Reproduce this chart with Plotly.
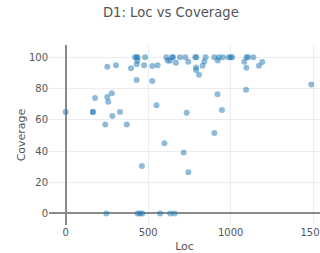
import plotly.graph_objects as go

loc = [0, 165, 165, 178, 240, 252, 252, 258, 279, 283, 305, 329, 370, 396,
       420, 430, 436, 434, 430, 430, 462, 475, 481, 525, 525, 550, 557, 598,
       610, 618, 632, 646, 650, 668, 692, 725, 715, 743, 733, 743, 785, 792,
       790, 790, 808, 830, 840, 848, 901, 921, 929, 953, 901, 920, 947, 988,
       1000, 1008, 1082, 1095, 1105, 1137, 1095, 1171, 1191, 1093, 1488,
       246, 436, 450, 464, 572, 634, 660]
coverage = [65, 65, 65, 74, 57, 94, 74.6, 71.6, 77, 62.4, 95, 65, 57, 93,
            100, 100, 100, 97.8, 95.5, 85.5, 30.4, 95, 100, 94.4, 84.8, 69.3, 95, 45,
            100, 98, 97.8, 100, 100, 96.5, 100, 100, 39, 26.4, 64.5, 97.2, 100, 100,
            93.5, 91.9, 88.9, 94.6, 97.4, 100, 100, 98, 100, 100, 51.5, 76.3, 66.3, 100,
            100, 100, 97.2, 100, 100, 100, 93.3, 94.6, 97, 79.3, 82.6,
            0, 0, 0, 0, 0, 0, 0]

fig = go.Figure(go.Scatter(
    x=loc, y=coverage, mode="markers",
    marker=dict(size=6, color="rgba(31,119,180,0.5)", line=dict(width=0)),
))

axis_common = dict(
    showgrid=True, gridcolor="#ececec", gridwidth=1,
    zeroline=True, zerolinecolor="#8a8a8a", zerolinewidth=1.5,
    showline=False, ticks="", automargin=False,
    tickfont=dict(size=10, color="#555"),
    title_font=dict(size=11, color="#555"),
)

fig.update_layout(
    width=320, height=253,
    margin=dict(l=49, r=0, t=45, b=28),
    paper_bgcolor="white", plot_bgcolor="white",
    font=dict(family="DejaVu Sans, Verdana, sans-serif", color="#555"),
    title=dict(text="D1: Loc vs Coverage", x=0.534, xanchor="center",
               y=0.952, yanchor="middle", font=dict(size=13.2, color="#555")),
    showlegend=False,
    xaxis=dict(range=[-101, 1541], tickvals=[0, 500, 1000, 1500],
               ticklabeloverflow="allow",
               title=dict(text="Loc", standoff=6), **axis_common),
    yaxis=dict(range=[-7.4, 107.9], tickvals=[0, 20, 40, 60, 80, 100],
               title=dict(text="Coverage", standoff=1), **axis_common),
)

fig.write_html(
    "out.html",
    config={"displayModeBar": False},
    post_script="document.body.style.margin='0';"
                "document.documentElement.style.overflow='hidden';",
)
